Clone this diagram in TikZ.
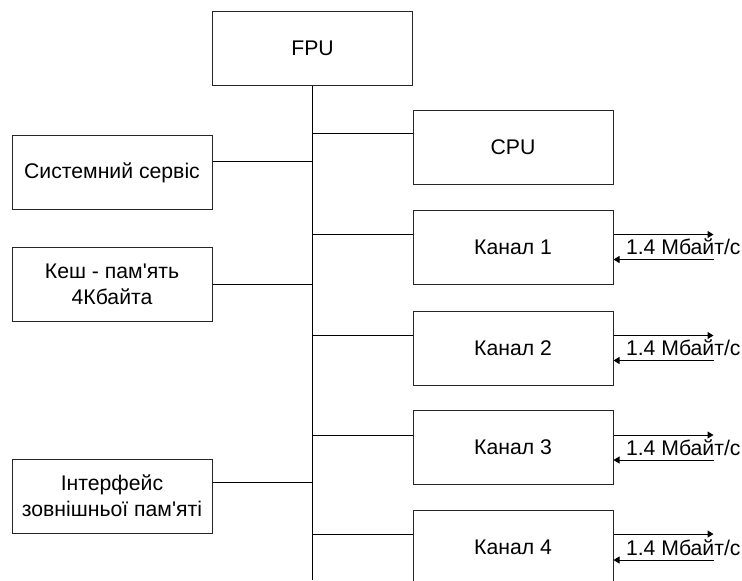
\documentclass[tikz,border=0pt]{standalone}
\usepackage{fontspec}
\newfontfamily\uafont{Liberation Sans}
\usetikzlibrary{arrows.meta}

\begin{document}
\begin{tikzpicture}[x=0.5pt,y=-0.5pt,line width=0.5pt,>={Triangle[length=3pt,width=3.5pt]},
    font=\uafont\fontsize{10.6}{13}\selectfont,
    unit/.style={draw=black!85,rectangle,minimum width=100pt,minimum height=37pt,inner sep=0pt,align=center},
    rate/.style={anchor=west,inner sep=0pt}]
  \useasboundingbox (0,0) rectangle (742,580);
  % blocks
  \node[unit] (fpu) at (312.5,48) {FPU};
  \node[unit] (cpu) at (513,147.5) {CPU};
  \node[unit] (sys) at (112,172.5) {Системний сервіс};
  \node[unit] (cache) at (112,284.5) {Кеш - пам'ять\\4Кбайта};
  \node[unit] (mem) at (112,496) {Інтерфейс\\зовнішньої пам'яті};
  \node[unit] (ch1) at (513,247) {Канал 1};
  \node[unit] (ch2) at (513,348) {Канал 2};
  \node[unit] (ch3) at (513,447.5) {Канал 3};
  \node[unit] (ch4) at (513,547.5) {Канал 4};
  % bus
  \coordinate (busend) at (fpu.south |- 0,580);
  \draw (fpu.south) -- (busend);
  \draw ([yshift=-11.5pt]cpu.north west) coordinate (c0) -- (c0 -| fpu.south);
  \draw ([yshift=-13pt]sys.north east) coordinate (s0) -- (s0 -| fpu.south);
  \draw (cache.east) -- (cache.east -| fpu.south);
  \draw ([yshift=-12pt]mem.north east) coordinate (m0) -- (m0 -| fpu.south);
  \draw ([yshift=-12.5pt]ch1.north west) coordinate (k1) -- (k1 -| fpu.south);
  \draw ([yshift=-12.5pt]ch2.north west) coordinate (k2) -- (k2 -| fpu.south);
  \draw ([yshift=-12.5pt]ch3.north west) coordinate (k3) -- (k3 -| fpu.south);
  \draw ([yshift=-12pt]ch4.north west) coordinate (k4) -- (k4 -| fpu.south);
  % channel links
  \draw[->] ([yshift=-12.5pt]ch1.north east) -- ++(50pt,0);
  \draw[<-] ([yshift=-25pt]ch1.north east) -- ++(50pt,0);
  \node[rate] (r1) at ([xshift=6pt]ch1.east) {1.4 Мбайт/с};
  \draw[->] ([yshift=-12.5pt]ch2.north east) -- ++(50pt,0);
  \draw[<-] ([yshift=-25pt]ch2.north east) -- ++(50pt,0);
  \node[rate] (r2) at ([xshift=6pt]ch2.east) {1.4 Мбайт/с};
  \draw[->] ([yshift=-12.5pt]ch3.north east) -- ++(50pt,0);
  \draw[<-] ([yshift=-25pt]ch3.north east) -- ++(50pt,0);
  \node[rate] (r3) at ([xshift=6pt]ch3.east) {1.4 Мбайт/с};
  \draw[->] ([yshift=-12pt]ch4.north east) -- ++(50pt,0);
  \draw[<-] ([yshift=-25pt]ch4.north east) -- ++(50pt,0);
  \node[rate] (r4) at ([xshift=6pt]ch4.east) {1.4 Мбайт/с};
\end{tikzpicture}
\end{document}
